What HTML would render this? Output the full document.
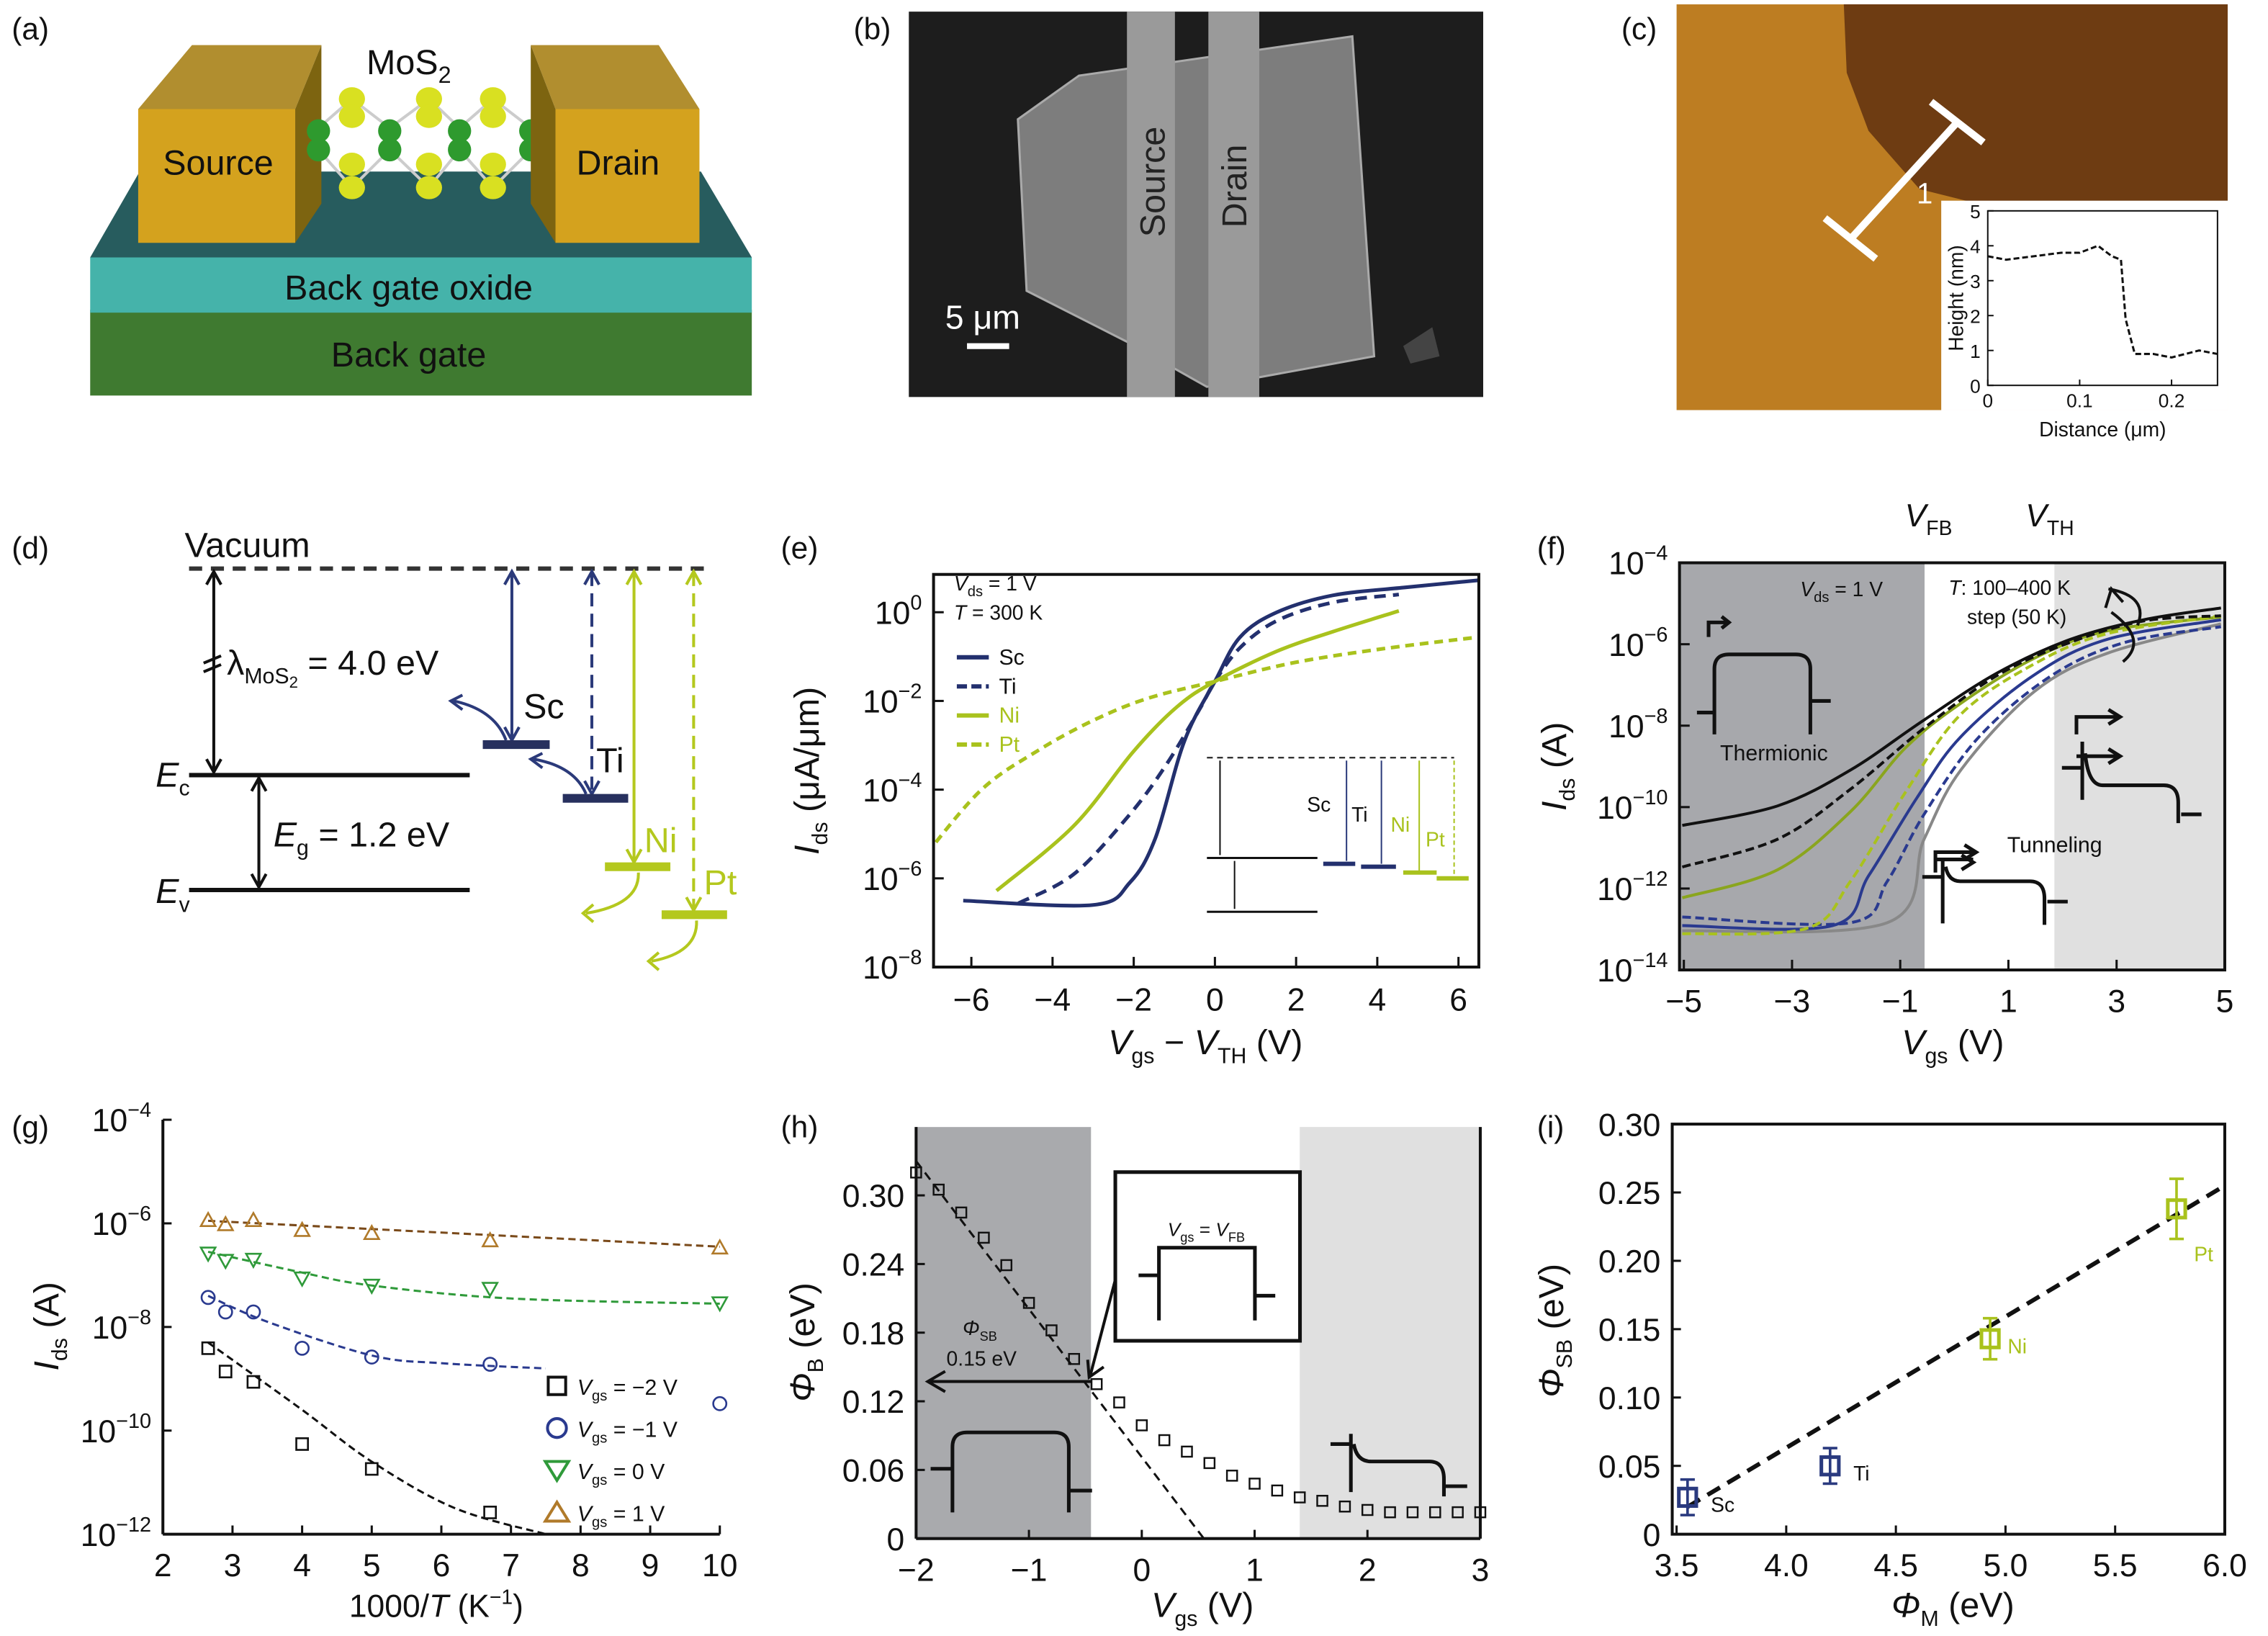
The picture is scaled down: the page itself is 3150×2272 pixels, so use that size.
<!DOCTYPE html>
<html><head><meta charset="utf-8"><style>
html,body{margin:0;padding:0;background:#fff;}
svg{display:block;font-family:"Liberation Sans",sans-serif;}
</style></head><body>
<svg id="fig" width="3150" height="2272" viewBox="0 0 1559.7 1125" xmlns="http://www.w3.org/2000/svg">
<g font-size="21" fill="#111">
<text x="8" y="27">(a)</text>
<text x="587" y="27">(b)</text>
<text x="1115" y="27">(c)</text>
<text x="8" y="384">(d)</text>
<text x="537" y="384">(e)</text>
<text x="1057" y="384">(f)</text>
<text x="8" y="782">(g)</text>
<text x="537" y="782">(h)</text>
<text x="1057" y="782">(i)</text>
</g>

<!-- (a) device schematic -->
<g>
<rect x="62" y="213" width="455" height="59" fill="#3f7a30"/>
<rect x="62" y="177" width="455" height="38" fill="#45b3aa"/>
<polygon points="62,177 517,177 482,118 96,118" fill="#275c5e"/>
<polygon points="95,75 132,31 221,31 203,75" fill="#a88218" opacity="0.9"/>
<polygon points="203,75 221,31 221,140 203,167" fill="#7d6410"/>
<rect x="95" y="75" width="108" height="92" fill="#d4a21e"/>
<g stroke="#ccc" stroke-width="2">
<line x1="219" y1="88" x2="242" y2="68"/><line x1="242" y1="68" x2="268" y2="88"/><line x1="268" y1="88" x2="295" y2="68"/><line x1="295" y1="68" x2="316" y2="88"/><line x1="316" y1="88" x2="339" y2="68"/><line x1="339" y1="68" x2="365" y2="88"/>
<line x1="219" y1="103" x2="242" y2="129"/><line x1="242" y1="129" x2="268" y2="103"/><line x1="268" y1="103" x2="295" y2="129"/><line x1="295" y1="129" x2="316" y2="103"/><line x1="316" y1="103" x2="339" y2="129"/><line x1="339" y1="129" x2="365" y2="103"/>
</g>
<g fill="#d9e021">
<ellipse cx="242" cy="68" rx="9" ry="8"/><ellipse cx="295" cy="68" rx="9" ry="8"/><ellipse cx="339" cy="68" rx="9" ry="8"/>
<ellipse cx="242" cy="80" rx="9" ry="8"/><ellipse cx="295" cy="80" rx="9" ry="8"/><ellipse cx="339" cy="80" rx="9" ry="8"/>
<ellipse cx="242" cy="113" rx="9" ry="8"/><ellipse cx="295" cy="113" rx="9" ry="8"/><ellipse cx="339" cy="113" rx="9" ry="8"/>
<ellipse cx="242" cy="129" rx="9" ry="8"/><ellipse cx="295" cy="129" rx="9" ry="8"/><ellipse cx="339" cy="129" rx="9" ry="8"/>
</g>
<g fill="#2e9a2e">
<ellipse cx="219" cy="90" rx="8" ry="8"/><ellipse cx="268" cy="90" rx="8" ry="8"/><ellipse cx="316" cy="90" rx="8" ry="8"/><ellipse cx="365" cy="90" rx="8" ry="8"/>
<ellipse cx="219" cy="103" rx="8" ry="8"/><ellipse cx="268" cy="103" rx="8" ry="8"/><ellipse cx="316" cy="103" rx="8" ry="8"/><ellipse cx="365" cy="103" rx="8" ry="8"/>
</g>
<polygon points="365,31 453,31 481,75 382,75" fill="#a88218" opacity="0.9"/>
<polygon points="365,31 382,75 382,167 365,140" fill="#7d6410"/>
<rect x="382" y="75" width="99" height="92" fill="#d4a21e"/>
<text x="252" y="51" font-size="24" fill="#111">MoS<tspan font-size="16" dy="6">2</tspan></text>
<text x="150" y="120" font-size="24" fill="#111" text-anchor="middle">Source</text>
<text x="425" y="120" font-size="24" fill="#111" text-anchor="middle">Drain</text>
<text x="281" y="206" font-size="24" fill="#111" text-anchor="middle">Back gate oxide</text>
<text x="281" y="252" font-size="24" fill="#111" text-anchor="middle">Back gate</text>
</g>

<!-- (b) SEM -->
<g>
<rect x="625" y="8" width="395" height="265" fill="#1d1d1d"/>
<polygon points="700,82 742,52 930,25 945,245 830,266 775,235 706,200" fill="#7d7d7d" stroke="#aaa" stroke-width="1.5"/>
<rect x="775" y="8" width="33" height="265" fill="#9a9a9a"/>
<rect x="831" y="8" width="35" height="265" fill="#9a9a9a"/>
<polygon points="965,238 985,225 990,245 970,250" fill="#444"/>
<text transform="translate(801,125) rotate(-90)" font-size="24" fill="#222" text-anchor="middle">Source</text>
<text transform="translate(857,128) rotate(-90)" font-size="24" fill="#222" text-anchor="middle">Drain</text>
<text x="650" y="226" font-size="23" fill="#fff">5 μm</text>
<line x1="665" y1="238" x2="694" y2="238" stroke="#fff" stroke-width="4"/>
</g>

<!-- (c) AFM -->
<g>
<rect x="1153" y="3" width="379" height="279" fill="#bd7d22"/>
<polygon points="1268,3 1532,3 1532,138 1400,150 1320,130 1285,90 1270,50" fill="#6e3c12"/>
<line x1="1255" y1="150" x2="1290" y2="178" stroke="#fff" stroke-width="5"/>
<line x1="1273" y1="164" x2="1347" y2="83" stroke="#fff" stroke-width="5"/>
<line x1="1328" y1="70" x2="1364" y2="98" stroke="#fff" stroke-width="5"/>
<text x="1318" y="140" font-size="20" fill="#fff">1</text>
<rect x="1335" y="138" width="197" height="144" fill="#fff"/>
<g id="afmInset"></g>
</g>

<!-- (d) band diagram -->
<g font-size="24" fill="#111">
<text x="127" y="383">Vacuum</text>
<line x1="130" y1="391" x2="486" y2="391" stroke="#333" stroke-width="3" stroke-dasharray="9,6"/>
<line x1="147" y1="395" x2="147" y2="529" stroke="#111" stroke-width="2"/>
<path d="M142,402 L147,393 L152,402 M142,522 L147,531 L152,522" stroke="#111" stroke-width="2" fill="none"/>
<path d="M140,456 l12,-5 M140,462 l12,-5" stroke="#111" stroke-width="2"/>
<text x="156" y="464">λ<tspan font-size="15" dy="6">MoS</tspan><tspan font-size="11" dy="3">2</tspan><tspan dy="-9"> = 4.0 eV</tspan></text>
<line x1="130" y1="533" x2="323" y2="533" stroke="#111" stroke-width="3"/>
<line x1="130" y1="612" x2="323" y2="612" stroke="#111" stroke-width="3"/>
<text x="107" y="541" font-style="italic">E<tspan font-size="15" dy="6" font-style="normal">c</tspan></text>
<text x="107" y="621" font-style="italic">E<tspan font-size="15" dy="6" font-style="normal">v</tspan></text>
<line x1="178" y1="537" x2="178" y2="608" stroke="#111" stroke-width="2"/>
<path d="M173,544 L178,535 L183,544 M173,601 L178,610 L183,601" stroke="#111" stroke-width="2" fill="none"/>
<text x="188" y="582"><tspan font-style="italic">E</tspan><tspan font-size="15" dy="6">g</tspan><tspan dy="-6"> = 1.2 eV</tspan></text>
<g stroke="#2b3a7a" stroke-width="2" fill="none">
<line x1="352" y1="394" x2="352" y2="508"/><path d="M347,402 L352,393 L357,402 M347,500 L352,509 L357,500"/>
<line x1="407" y1="394" x2="407" y2="545" stroke-dasharray="9,5"/><path d="M402,402 L407,393 L412,402 M402,537 L407,546 L412,537"/>
<path d="M348,509 Q340,488 312,482"/><path d="M318,478 L310,482 L318,488"/>
<path d="M403,546 Q395,527 367,522"/><path d="M373,518 L365,522 L373,528"/>
</g>
<line x1="332" y1="512" x2="378" y2="512" stroke="#27305e" stroke-width="6"/>
<line x1="387" y1="549" x2="432" y2="549" stroke="#27305e" stroke-width="6"/>
<text x="360" y="494" fill="#111">Sc</text>
<text x="410" y="531" fill="#111">Ti</text>
<g stroke="#b4c81e" stroke-width="2" fill="none">
<line x1="436" y1="394" x2="436" y2="592"/><path d="M431,402 L436,393 L441,402 M431,584 L436,593 L441,584"/>
<line x1="477" y1="394" x2="477" y2="625" stroke-dasharray="9,5"/><path d="M472,402 L477,393 L482,402 M472,617 L477,626 L482,617"/>
<path d="M439,600 Q440,622 403,628"/><path d="M408,622 L401,628 L408,634"/>
<path d="M479,633 Q480,655 448,661"/><path d="M453,655 L446,661 L453,667"/>
</g>
<line x1="416" y1="596" x2="461" y2="596" stroke="#b4c81e" stroke-width="6"/>
<line x1="455" y1="629" x2="500" y2="629" stroke="#b4c81e" stroke-width="6"/>
<text x="443" y="586" fill="#b4c81e">Ni</text>
<text x="484" y="615" fill="#b4c81e">Pt</text>
</g>

<g id="panelE"></g>
<g id="panelF"></g>
<g id="panelG"></g>
<g id="panelH"></g>
<g id="panelI"></g>
</svg>
<script>
// ---------- data ----------
// (e) Ids vs Vgs-VTH (log10 μA/μm)
const eScX=[-6.2,-3.0,-2.1,-1.47,-0.75,0,0.62,1.53,2.9,4.7,6.5];
const eScY=[-6.5,-6.6,-6.1,-5.1,-2.9,-1.56,-0.56,0,0.38,0.56,0.72];
const eTiX=[-4.84,-3.47,-2.1,-1.2,-0.38,0,0.62,1.53,2.9,4.53];
const eTiY=[-6.56,-5.9,-4.56,-3.44,-2.19,-1.56,-0.8,-0.19,0.22,0.4];
const eNiX=[-5.38,-3.47,-2.0,-0.93,0,1.53,2.9,4.53];
const eNiY=[-6.28,-4.81,-3.13,-2.13,-1.56,-0.88,-0.44,0.03];
const ePtX=[-7.1,-5.75,-4.38,-3.0,-1.65,0,1.98,4.25,6.5];
const ePtY=[-5.44,-4.0,-3.13,-2.44,-1.94,-1.56,-1.13,-0.81,-0.56];
const eXTicks=[-6,-4,-2,0,2,4,6];
const eYTicks=[0,-2,-4,-6,-8];
// (f) Ids vs Vgs (log10 A)
const fX=[-5.03,-3.27,-1.92,-0.56,0.8,2.15,3.5,4.93];
const fBlackSolid=[-10.45,-9.97,-9.09,-7.86,-6.70,-5.88,-5.40,-5.11];
const fBlackDash=[-11.47,-10.79,-9.56,-8.06,-6.76,-5.95,-5.43,-5.30];
const fGreenX=[-5.03,-3.27,-1.92,-0.9,0.12,1.47,2.83,4.93];
const fGreenSolid=[-12.23,-11.54,-10.11,-8.54,-7.45,-6.35,-5.67,-5.33];
const fGreenDashX=[-5.03,-2.73,-1.92,-0.9,0.12,1.47,2.83,4.93];
const fGreenDash=[-13.11,-12.98,-11.82,-9.63,-7.72,-6.49,-5.74,-5.30];
const fBlueX=[-5.03,-2.25,-1.58,-0.69,0.12,1.47,2.83,4.93];
const fBlueSolid=[-12.91,-12.91,-11.68,-9.77,-8.27,-6.76,-5.88,-5.40];
const fBlueDashX=[-5.03,-1.92,-1.24,-0.56,0.46,1.81,3.17,4.93];
const fBlueDash=[-12.70,-12.84,-11.82,-10.18,-8.27,-6.76,-5.95,-5.57];
const fGrayX=[-5.03,-1.24,-0.56,0.12,1.47,2.83,4.93];
const fGray=[-13.04,-12.84,-10.79,-9.09,-7.17,-6.22,-5.50];
const fXTicks=[-5,-3,-1,1,3,5];
const fYTicks=[-4,-6,-8,-10,-12,-14];
// (g) Ids vs 1000/T
const gX=[2.65,2.9,3.3,4,5,6.7];
const gM2=[-8.41,-8.86,-9.06,-10.26,-10.74,-11.58];
const gM1X=[2.65,2.9,3.3,4,5,6.7,10];
const gM1=[-7.43,-7.71,-7.71,-8.41,-8.58,-8.72,-9.48];
const g0=[-6.58,-6.72,-6.70,-7.06,-7.20,-7.26,-7.54];
const gP1=[-5.94,-6.02,-5.94,-6.13,-6.19,-6.33,-6.47];
const gFitM2X=[2.65,4,5,6.2,7.5], gFitM2=[-8.3,-9.6,-10.6,-11.5,-12.0];
const gFitM1X=[2.65,3.5,5,6,7.5], gFitM1=[-7.4,-7.9,-8.55,-8.7,-8.8];
const gFit0X=[2.65,4,5,7,10], gFit0=[-6.55,-6.95,-7.2,-7.45,-7.55];
const gFitP1X=[2.65,10], gFitP1=[-5.95,-6.45];
const gXTicks=[2,3,4,5,6,7,8,9,10];
const gYTicks=[-4,-6,-8,-10,-12];
// (h) barrier vs Vgs
const hX=[-2,-1.8,-1.6,-1.4,-1.2,-1,-0.8,-0.6,-0.4,-0.2,0,0.2,0.4,0.6,0.8,1,1.2,1.4,1.6,1.8,2,2.2,2.4,2.6,2.8,3];
const hY=[0.32,0.305,0.285,0.263,0.239,0.206,0.182,0.157,0.135,0.119,0.099,0.086,0.076,0.066,0.055,0.048,0.042,0.036,0.033,0.028,0.025,0.023,0.023,0.023,0.023,0.023];
const hFitX=[-2,0.55], hFitY=[0.33,0];
const hXTicks=[-2,-1,0,1,2,3];
const hYTicks=[0,0.06,0.12,0.18,0.24,0.30];
// (i) SB height vs work function
const iMetals=["Sc","Ti","Ni","Pt"];
const iPhiM=[3.55,4.2,4.93,5.78];
const iPhiSB=[0.027,0.05,0.143,0.238];
const iErr=[0.013,0.013,0.015,0.022];
const iFitX=[3.55,6.0], iFitY=[0.02,0.255];
const iXTicks=[3.5,4.0,4.5,5.0,5.5,6.0];
const iYTicks=[0,0.05,0.10,0.15,0.20,0.25,0.30];
// (c) inset
const cX=[0,0.02,0.05,0.08,0.1,0.12,0.135,0.145,0.15,0.16,0.18,0.2,0.23,0.25];
const cY=[3.7,3.6,3.7,3.8,3.8,4.0,3.7,3.6,1.9,0.9,0.9,0.8,1.0,0.9];

// ---------- helpers ----------
const NS="http://www.w3.org/2000/svg";
function el(parent,tag,attrs){const e=document.createElementNS(NS,tag);for(const k in attrs)e.setAttribute(k,attrs[k]);parent.appendChild(e);return e;}
function lin(d0,d1,r0,r1){return v=>r0+(v-d0)*(r1-r0)/(d1-d0);}
function pathD(xs,ys,sx,sy){return xs.map((x,i)=>(i?'L':'M')+sx(x).toFixed(1)+','+sy(ys[i]).toFixed(1)).join(' ');}
function smoothD(xs,ys,sx,sy){
 const P=xs.map((x,i)=>[sx(x),sy(ys[i])]);
 let d='M'+P[0][0].toFixed(1)+','+P[0][1].toFixed(1);
 for(let i=0;i<P.length-1;i++){
  const p0=P[i-1]||P[i],p1=P[i],p2=P[i+1],p3=P[i+2]||P[i+1];
  const c1=[p1[0]+(p2[0]-p0[0])/6,p1[1]+(p2[1]-p0[1])/6];
  const c2=[p2[0]-(p3[0]-p1[0])/6,p2[1]-(p3[1]-p1[1])/6];
  d+=` C${c1[0].toFixed(1)},${c1[1].toFixed(1)} ${c2[0].toFixed(1)},${c2[1].toFixed(1)} ${p2[0].toFixed(1)},${p2[1].toFixed(1)}`;
 }
 return d;}
function sup(parent,x,y,exp,size,anchor){const t=el(parent,'text',{x:x,y:y,'font-size':size,'text-anchor':anchor||'end',fill:'#111'});t.appendChild(document.createTextNode('10'));const s=el(t,'tspan',{dy:-size*0.45,'font-size':size*0.65});s.textContent=String(exp).replace('-','−');return t;}
function txt(parent,x,y,s,size,anchor,extra){const t=el(parent,'text',Object.assign({x:x,y:y,'font-size':size,'text-anchor':anchor||'middle',fill:'#111'},extra||{}));t.textContent=s;return t;}
function fmtNum(v){return String(v).replace('-','−');}

// ---------- (c) inset ----------
(function(){
 const g=document.getElementById('afmInset');
 const sx=lin(0,0.25,1367,1525), sy=lin(0,5,265,145);
 el(g,'rect',{x:1367,y:145,width:158,height:120,fill:'none',stroke:'#111','stroke-width':1});
 [0,1,2,3,4,5].forEach(v=>{el(g,'line',{x1:1367,x2:1371,y1:sy(v),y2:sy(v),stroke:'#111'});txt(g,1362,sy(v)+5,String(v),13,'end');});
 [0,0.1,0.2].forEach(v=>{el(g,'line',{x1:sx(v),x2:sx(v),y1:265,y2:261,stroke:'#111'});txt(g,sx(v),280,String(v),13);});
 const p=el(g,'path',{d:pathD(cX,cY,sx,sy),fill:'none',stroke:'#111','stroke-width':1.5,'stroke-dasharray':'4,2'});
 
 
 txt(g,1446,300,'Distance (μm)',14);
 txt(g,0,0,'Height (nm)',14,'middle',{transform:'translate(1350,205) rotate(-90)'});
})();

// ---------- (e) ----------
(function(){
 const g=document.getElementById('panelE');
 const x0=642,x1=1017,y0=395,y1=665;
 const sx=lin(-6,6,668,1003), sy=lin(0,-8,421,665);
 const clip=el(g,'clipPath',{id:'clipE'});el(clip,'rect',{x:x0,y:y0,width:x1-x0,height:y1-y0});
 const series=[[eScX,eScY,'#23306e',''],[eTiX,eTiY,'#23306e','8,5'],[eNiX,eNiY,'#a9c21d',''],[ePtX,ePtY,'#a9c21d','6,4']];
 const names=['sc-curve','ti-curve','ni-curve','pt-curve'];
 const cg=el(g,'g',{'clip-path':'url(#clipE)'});
 series.forEach((s,i)=>{const p=el(cg,'path',{d:smoothD(s[0],s[1],sx,sy),fill:'none',stroke:s[2],'stroke-width':2.5,'stroke-dasharray':s[3]});
  
  });
 el(g,'rect',{x:x0,y:y0,width:x1-x0,height:y1-y0,fill:'none',stroke:'#111','stroke-width':2});
 eXTicks.forEach(v=>{el(g,'line',{x1:sx(v),x2:sx(v),y1:y1,y2:y1-7,stroke:'#111','stroke-width':1.5});txt(g,sx(v),y1+30,fmtNum(v),22);});
 eYTicks.forEach(v=>{el(g,'line',{x1:x0,x2:x0+7,y1:sy(v),y2:sy(v),stroke:'#111','stroke-width':1.5});sup(g,x0-8,sy(v)+8,v,22);});
 const xt=el(g,'text',{x:829,y:725,'font-size':24,'text-anchor':'middle',fill:'#111'});xt.innerHTML='<tspan font-style="italic">V</tspan><tspan font-size="15" dy="6">gs</tspan><tspan dy="-6"> − </tspan><tspan font-style="italic">V</tspan><tspan font-size="15" dy="6">TH</tspan><tspan dy="-6"> (V)</tspan>';
 const yt=el(g,'text',{transform:'translate(563,530) rotate(-90)','font-size':24,'text-anchor':'middle',fill:'#111'});yt.innerHTML='<tspan font-style="italic">I</tspan><tspan font-size="15" dy="6">ds</tspan><tspan dy="-6"> (μA/μm)</tspan>';
 const a=el(g,'text',{x:656,y:406,'font-size':14,fill:'#111'});a.innerHTML='<tspan font-style="italic">V</tspan><tspan font-size="10" dy="4">ds</tspan><tspan dy="-4"> = 1 V</tspan>';
 const b=el(g,'text',{x:656,y:426,'font-size':14,fill:'#111'});b.innerHTML='<tspan font-style="italic">T</tspan> = 300 K';
 ['Sc','Ti','Ni','Pt'].forEach((n,i)=>{const y=452+i*20;const l=el(g,'line',{x1:658,x2:680,y1:y,y2:y,stroke:series[i][2],'stroke-width':3,'stroke-dasharray':series[i][3]?'7,3':''});
  
  
  txt(g,687,y+5,n,15,'start',{fill:i<2?'#111':'#a9c21d'});});
 const ig=el(g,'g',{});
 el(ig,'line',{x1:830,x2:1000,y1:521,y2:521,stroke:'#333','stroke-width':1.2,'stroke-dasharray':'4,3'});
 el(ig,'line',{x1:830,x2:906,y1:590,y2:590,stroke:'#111','stroke-width':1.5});
 el(ig,'line',{x1:830,x2:906,y1:627,y2:627,stroke:'#111','stroke-width':1.5});
 el(ig,'line',{x1:839,x2:839,y1:523,y2:588,stroke:'#111','stroke-width':1});
 el(ig,'line',{x1:849,x2:849,y1:592,y2:625,stroke:'#111','stroke-width':1});
 el(ig,'line',{x1:926,x2:926,y1:523,y2:592,stroke:'#2b3a7a','stroke-width':1});
 el(ig,'line',{x1:950,x2:950,y1:523,y2:594,stroke:'#2b3a7a','stroke-width':1});
 el(ig,'line',{x1:976,x2:976,y1:523,y2:599,stroke:'#a9c21d','stroke-width':1});
 el(ig,'line',{x1:1000,x2:1000,y1:523,y2:604,stroke:'#a9c21d','stroke-width':1,'stroke-dasharray':'3,2'});
 el(ig,'line',{x1:910,x2:932,y1:594,y2:594,stroke:'#23306e','stroke-width':3});
 el(ig,'line',{x1:936,x2:960,y1:596,y2:596,stroke:'#23306e','stroke-width':3});
 el(ig,'line',{x1:965,x2:988,y1:600,y2:600,stroke:'#a9c21d','stroke-width':3});
 el(ig,'line',{x1:988,x2:1010,y1:604,y2:604,stroke:'#a9c21d','stroke-width':3});
 txt(ig,907,558,'Sc',14);txt(ig,935,565,'Ti',14);txt(ig,963,572,'Ni',14,'middle',{fill:'#a9c21d'});txt(ig,987,582,'Pt',14,'middle',{fill:'#a9c21d'});
})();

// ---------- (f) ----------
(function(){
 const g=document.getElementById('panelF');
 const x0=1155,x1=1530,y0=387,y1=667;
 const sx=lin(-5,5,1158,1530), sy=lin(-4,-14,387,667);
 el(g,'rect',{x:x0,y:y0,width:sx(-0.55)-x0,height:y1-y0,fill:'#a7a8ac'});
 el(g,'rect',{x:sx(1.85),y:y0,width:x1-sx(1.85),height:y1-y0,fill:'#e0e0e0'});
 const cg=el(g,'g',{});
 const ser=[[fGrayX,fGray,'#888',''],[fBlueX,fBlueSolid,'#2a3a8f',''],[fBlueDashX,fBlueDash,'#2a3a8f','6,3'],[fGreenX,fGreenSolid,'#8aa51e',''],[fGreenDashX,fGreenDash,'#a9c21d','6,3'],[fX,fBlackDash,'#111','6,3'],[fX,fBlackSolid,'#111','']];
 const nm=['gray-curve','blue-solid-curve','blue-dashed-curve','green-solid-curve','green-dashed-curve','black-dashed-curve','black-solid-curve'];
 ser.forEach((s,i)=>{const p=el(cg,'path',{d:smoothD(s[0],s[1],sx,sy),fill:'none',stroke:s[2],'stroke-width':2,'stroke-dasharray':s[3]});
  
  });
 el(g,'rect',{x:x0,y:y0,width:x1-x0,height:y1-y0,fill:'none',stroke:'#111','stroke-width':2});
 fXTicks.forEach(v=>{el(g,'line',{x1:sx(v),x2:sx(v),y1:y1,y2:y1-7,stroke:'#111','stroke-width':1.5});txt(g,sx(v),y1+29,fmtNum(v),22);});
 fYTicks.forEach(v=>{el(g,'line',{x1:x0,x2:x0+7,y1:sy(v),y2:sy(v),stroke:'#111','stroke-width':1.5});sup(g,x0-8,sy(v)+8,v,22);});
 const xt=el(g,'text',{x:1343,y:725,'font-size':24,'text-anchor':'middle',fill:'#111'});xt.innerHTML='<tspan font-style="italic">V</tspan><tspan font-size="15" dy="6">gs</tspan><tspan dy="-6"> (V)</tspan>';
 const yt=el(g,'text',{transform:'translate(1077,527) rotate(-90)','font-size':24,'text-anchor':'middle',fill:'#111'});yt.innerHTML='<tspan font-style="italic">I</tspan><tspan font-size="15" dy="6">ds</tspan><tspan dy="-6"> (A)</tspan>';
 const t1=el(g,'text',{x:1310,y:362,'font-size':22,fill:'#111'});t1.innerHTML='<tspan font-style="italic">V</tspan><tspan font-size="14" dy="6">FB</tspan>';
 const t2=el(g,'text',{x:1393,y:362,'font-size':22,fill:'#111'});t2.innerHTML='<tspan font-style="italic">V</tspan><tspan font-size="14" dy="6">TH</tspan>';
 const a=el(g,'text',{x:1238,y:410,'font-size':14,fill:'#111'});a.innerHTML='<tspan font-style="italic">V</tspan><tspan font-size="10" dy="4">ds</tspan><tspan dy="-4"> = 1 V</tspan>';
 const b=el(g,'text',{x:1340,y:409,'font-size':14,fill:'#111'});b.innerHTML='<tspan font-style="italic">T</tspan>: 100–400 K';
 txt(g,1387,429,'step (50 K)',14);
 el(g,'path',{d:'M1452,421 Q1478,440 1460,455 M1450,405 Q1478,410 1470,430',fill:'none',stroke:'#111','stroke-width':2});
 el(g,'path',{d:'M1448,418 L1452,405 L1460,414',fill:'none',stroke:'#111','stroke-width':2});
 const bs=el(g,'g',{fill:'none',stroke:'#111','stroke-width':2.5});
 el(bs,'path',{d:'M1175,438 v-10 h12 M1184,424 l5,4 -5,4'});
 el(bs,'path',{d:'M1167,490 h12 M1179,505 v-45 q0,-10 10,-10 h46 q10,0 10,10 v45 M1245,482 h14'});
 txt(g,1220,523,'Thermionic',15);
 el(bs,'path',{d:'M1428,505 v-12 h30 M1450,488 l8,5 -8,5 M1428,520 h30 M1450,515 l8,5 -8,5'});
 el(bs,'path',{d:'M1418,528 h14 M1432,510 v40 M1434,518 q2,22 12,22 h42 q10,0 10,12 v14 M1500,560 h14'});
 el(bs,'path',{d:'M1331,600 v-14 h28 M1351,581 l8,5 -8,5 M1331,591 h26 M1349,588 l8,5 -8,5'});
 el(bs,'path',{d:'M1322,603 h14 M1336,590 v45 M1338,596 q2,10 10,10 h48 q10,0 10,12 v18 M1408,620 h14'});
 txt(g,1413,586,'Tunneling',15);
})();

// ---------- (g) ----------
(function(){
 const g=document.getElementById('panelG');
 const x0=112,x1=495,y0=770,y1=1055;
 const sx=lin(2,10,112,495), sy=lin(-4,-12,770,1055);
 el(g,'line',{x1:x0,x2:x0,y1:y0,y2:y1,stroke:'#111','stroke-width':2});
 el(g,'line',{x1:x0,x2:x1,y1:y1,y2:y1,stroke:'#111','stroke-width':2});
 gXTicks.forEach(v=>{el(g,'line',{x1:sx(v),x2:sx(v),y1:y1,y2:y1-6,stroke:'#111','stroke-width':1.5});txt(g,sx(v),y1+29,String(v),22);});
 gYTicks.forEach(v=>{el(g,'line',{x1:x0,x2:x0+6,y1:sy(v),y2:sy(v),stroke:'#111','stroke-width':1.5});sup(g,x0-8,sy(v)+8,v,22);});
 const clip=el(g,'clipPath',{id:'clipG'});el(clip,'rect',{x:x0,y:y0,width:x1-x0+5,height:y1-y0});
 const cg=el(g,'g',{'clip-path':'url(#clipG)'});
 const fits=[[gFitM2X,gFitM2,'#111'],[gFitM1X,gFitM1,'#2a3a8f'],[gFit0X,gFit0,'#2f9a3a'],[gFitP1X,gFitP1,'#7a4a1a']];
 fits.forEach((f,i)=>{const p=el(cg,'path',{d:smoothD(f[0],f[1],sx,sy),fill:'none',stroke:f[2],'stroke-width':1.5,'stroke-dasharray':'5,3'});
  
  });
 gX.forEach((x,i)=>{const r=el(g,'rect',{x:sx(x)-4,y:sy(gM2[i])-4,width:8,height:8,fill:'none',stroke:'#111','stroke-width':1.3});
  
  });
 gM1X.forEach((x,i)=>{const c=el(g,'circle',{cx:sx(x),cy:sy(gM1[i]),r:4.5,fill:'none',stroke:'#2a3a8f','stroke-width':1.3});
  
  });
 gM1X.forEach((x,i)=>{const X=sx(x),Y=sy(g0[i]);const p=el(g,'path',{d:`M${X-5},${Y-4} L${X+5},${Y-4} L${X},${Y+5} Z`,fill:'none',stroke:'#2f9a3a','stroke-width':1.3});
  
  });
 gM1X.forEach((x,i)=>{const X=sx(x),Y=sy(gP1[i]);const p=el(g,'path',{d:`M${X-5},${Y+4} L${X+5},${Y+4} L${X},${Y-5} Z`,fill:'none',stroke:'#b07a2a','stroke-width':1.3});
  
  });
 const leg=[['−2','#111','sq'],['−1','#2a3a8f','ci'],['0','#2f9a3a','tv'],['1','#b07a2a','tu']];
 leg.forEach((l,i)=>{const y=953+i*29, X=383;
  if(l[2]==='sq')el(g,'rect',{x:X-6,y:y-6,width:12,height:12,fill:'none',stroke:l[1],'stroke-width':2});
  if(l[2]==='ci')el(g,'circle',{cx:X,cy:y,r:6.5,fill:'none',stroke:l[1],'stroke-width':2});
  if(l[2]==='tv')el(g,'path',{d:`M${X-8},${y-6} L${X+8},${y-6} L${X},${y+7} Z`,fill:'none',stroke:l[1],'stroke-width':2});
  if(l[2]==='tu')el(g,'path',{d:`M${X-8},${y+6} L${X+8},${y+6} L${X},${y-7} Z`,fill:'none',stroke:l[1],'stroke-width':2});
  const t=el(g,'text',{x:397,y:y+6,'font-size':15,fill:'#111'});t.innerHTML='<tspan font-style="italic">V</tspan><tspan font-size="10" dy="4">gs</tspan><tspan dy="-4"> = '+l[0]+' V</tspan>';});
 const xt=el(g,'text',{x:300,y:1112,'font-size':22,'text-anchor':'middle',fill:'#111'});xt.innerHTML='1000/<tspan font-style="italic">T</tspan> (K<tspan font-size="14" dy="-9">−1</tspan><tspan dy="9">)</tspan>';
 const yt=el(g,'text',{transform:'translate(40,912) rotate(-90)','font-size':24,'text-anchor':'middle',fill:'#111'});yt.innerHTML='<tspan font-style="italic">I</tspan><tspan font-size="15" dy="6">ds</tspan><tspan dy="-6"> (A)</tspan>';
})();

// ---------- (h) ----------
(function(){
 const g=document.getElementById('panelH');
 const x0=630,x1=1018,y0=775,y1=1058;
 const sx=lin(-2,3,630,1018), sy=lin(0,0.30,1058,822);
 el(g,'rect',{x:x0,y:y0,width:sx(-0.45)-x0,height:y1-y0,fill:'#a9aaad'});
 el(g,'rect',{x:sx(1.4),y:y0,width:x1-sx(1.4),height:y1-y0,fill:'#e0e0e0'});
 const clip=el(g,'clipPath',{id:'clipH'});el(clip,'rect',{x:x0,y:y0,width:x1-x0,height:y1-y0});
 const fit=el(g,'path',{d:pathD(hFitX,hFitY,sx,sy),fill:'none',stroke:'#111','stroke-width':1.5,'stroke-dasharray':'6,4','clip-path':'url(#clipH)'});
 
 
 hX.forEach((x,i)=>{const r=el(g,'rect',{x:sx(x)-3.5,y:sy(hY[i])-3.5,width:7,height:7,fill:'#fff','fill-opacity':0,stroke:'#111','stroke-width':1.2});
  
  });
 el(g,'line',{x1:x0,x2:x0,y1:y0,y2:y1,stroke:'#111','stroke-width':2});
 el(g,'line',{x1:x0,x2:x1,y1:y1,y2:y1,stroke:'#111','stroke-width':2});
 el(g,'line',{x1:x1,x2:x1,y1:y0,y2:y1,stroke:'#111','stroke-width':2});
 hXTicks.forEach(v=>{el(g,'line',{x1:sx(v),x2:sx(v),y1:y1,y2:y1-6,stroke:'#111','stroke-width':1.5});txt(g,sx(v),y1+29,fmtNum(v),22);});
 hYTicks.forEach(v=>{el(g,'line',{x1:x0,x2:x0+6,y1:sy(v),y2:sy(v),stroke:'#111','stroke-width':1.5});txt(g,x0-8,sy(v)+8,v===0?'0':v.toFixed(2),22,'end');});
 el(g,'line',{x1:sx(-0.45),x2:640,y1:950,y2:950,stroke:'#111','stroke-width':2});
 el(g,'path',{d:'M650,943 L638,950 L650,957',fill:'none',stroke:'#111','stroke-width':2});
 const a=el(g,'text',{x:662,y:918,'font-size':14,fill:'#111'});a.innerHTML='<tspan font-style="italic">Φ</tspan><tspan font-size="9" dy="4">SB</tspan>';
 txt(g,675,939,'0.15 eV',14);
 el(g,'rect',{x:767,y:806,width:127,height:116,fill:'#fff',stroke:'#111','stroke-width':2.5});
 el(g,'path',{d:'M767,880 L750,945',fill:'none',stroke:'#111','stroke-width':2});
 el(g,'path',{d:'M748,935 L749,947 L759,940',fill:'none',stroke:'#111','stroke-width':2});
 const b=el(g,'text',{x:803,y:850,'font-size':13,fill:'#111'});b.innerHTML='<tspan font-style="italic">V</tspan><tspan font-size="9" dy="4">gs</tspan><tspan dy="-4"> = </tspan><tspan font-style="italic">V</tspan><tspan font-size="9" dy="4">FB</tspan>';
 const bs=el(g,'g',{fill:'none',stroke:'#111','stroke-width':2.5});
 el(bs,'path',{d:'M783,877 h14 M797,908 v-50 h66 v50 M863,891 h14'});
 el(bs,'path',{d:'M640,1010 h15 M655,1040 v-45 q0,-10 10,-10 h60 q10,0 10,10 v45 M735,1025 h16'});
 el(bs,'path',{d:'M915,993 h14 M929,986 v40 M931,993 q2,12 12,12 h40 q10,0 10,12 v12 M993,1022 h16'});
 const xt=el(g,'text',{x:827,y:1112,'font-size':24,'text-anchor':'middle',fill:'#111'});xt.innerHTML='<tspan font-style="italic">V</tspan><tspan font-size="15" dy="6">gs</tspan><tspan dy="-6"> (V)</tspan>';
 const yt=el(g,'text',{transform:'translate(560,923) rotate(-90)','font-size':24,'text-anchor':'middle',fill:'#111'});yt.innerHTML='<tspan font-style="italic">Φ</tspan><tspan font-size="15" dy="6">B</tspan><tspan dy="-6"> (eV)</tspan>';
})();

// ---------- (i) ----------
(function(){
 const g=document.getElementById('panelI');
 const x0=1150,x1=1530,y0=773,y1=1055;
 const sx=lin(3.5,6.0,1153,1530), sy=lin(0,0.30,1055,773);
 el(g,'rect',{x:x0,y:y0,width:x1-x0,height:y1-y0,fill:'none',stroke:'#111','stroke-width':2});
 iXTicks.forEach(v=>{el(g,'line',{x1:sx(v),x2:sx(v),y1:y1,y2:y1-6,stroke:'#111','stroke-width':1.5});txt(g,sx(v),y1+29,v.toFixed(1),22);});
 iYTicks.forEach(v=>{el(g,'line',{x1:x0,x2:x0+6,y1:sy(v),y2:sy(v),stroke:'#111','stroke-width':1.5});txt(g,x0-8,sy(v)+8,v===0?'0':v.toFixed(2),22,'end');});
 const fit=el(g,'path',{d:pathD(iFitX,iFitY,sx,sy),fill:'none',stroke:'#111','stroke-width':3,'stroke-dasharray':'10,6'});
 
 
 const cols=['#2a3a7f','#2a3a7f','#a9c21d','#a9c21d'];
 iMetals.forEach((m,i)=>{const X=sx(iPhiM[i]),Y=sy(iPhiSB[i]),e=iErr[i]*940;
  const eb=el(g,'path',{d:`M${X},${Y-e} V${Y+e} M${X-5},${Y-e} h10 M${X-5},${Y+e} h10`,stroke:cols[i],'stroke-width':1.8,fill:'none'});
  
  
  const r=el(g,'rect',{x:X-6,y:Y-6,width:12,height:12,fill:'none',stroke:cols[i],'stroke-width':2.5});
  
  
  const dx=i<2?16:12, dy=i<2?10:(i===2?10:36);
  txt(g,X+dx,Y+dy,m,14,'start',{fill:i<2?'#111':'#a9c21d'});});
 const xt=el(g,'text',{x:1343,y:1112,'font-size':24,'text-anchor':'middle',fill:'#111'});xt.innerHTML='<tspan font-style="italic">Φ</tspan><tspan font-size="15" dy="6">M</tspan><tspan dy="-6"> (eV)</tspan>';
 const yt=el(g,'text',{transform:'translate(1075,915) rotate(-90)','font-size':24,'text-anchor':'middle',fill:'#111'});yt.innerHTML='<tspan font-style="italic">Φ</tspan><tspan font-size="15" dy="6">SB</tspan><tspan dy="-6"> (eV)</tspan>';
})();
</script>
</body></html>
